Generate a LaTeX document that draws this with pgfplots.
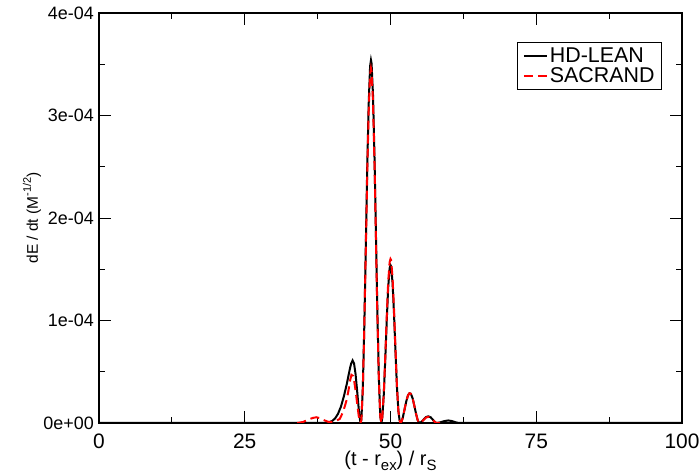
\documentclass[border=0pt]{standalone}
\usepackage{fontspec}
\setmainfont{Liberation Sans}
\usepackage{pgfplots}
\pgfplotsset{compat=1.18}

\begin{document}
\begin{tikzpicture}
\begin{axis}[
    at={(99bp,51bp)}, anchor=south west,
    scale only axis, width=583bp, height=410bp,
    xmin=0, xmax=100, ymin=0, ymax=4e-4,
    xtick={0,25,50,75,100},
    xticklabels={0,25,50,75,100},
    ytick={0,1e-4,2e-4,3e-4,4e-4},
    yticklabels={0e+00,1e-04,2e-04,3e-04,4e-04},
    scaled y ticks=false,
    minor x tick num=1, minor y tick num=1,
    tick align=inside,
    major tick length=12bp, minor tick length=6bp,
    every tick/.style={black, line width=0.9bp},
    axis line style={line width=1.5bp},
    /pgf/number format/assume math mode=true,
    xticklabel style={font=\fontsize{21}{21}\selectfont, inner sep=0pt, anchor=base, yshift=-25bp},
    yticklabel style={font=\fontsize{18}{18}\selectfont, inner sep=0pt, anchor=east, xshift=-5bp},
    xlabel={(t - r\raisebox{-0.3em}{\fontsize{15}{15}\selectfont ex}) / r\raisebox{-0.3em}{\fontsize{15}{15}\selectfont S}},
    xlabel style={font=\fontsize{20}{20}\selectfont, at={(axis description cs:0.5,0)}, anchor=base, yshift=-42bp, inner sep=0pt},
    ylabel={dE / dt (M\raisebox{0.45em}{\fontsize{11}{11}\selectfont -1/2})},
    ylabel style={font=\fontsize{15.5}{15.5}\selectfont, at={(axis description cs:-0.115,0.5)}, anchor=center, inner sep=0pt},
    legend style={at={(0.9657,0.929)}, anchor=north east, draw=black, line width=0.8bp,
        inner xsep=5bp, inner ysep=3bp, row sep=0bp,
        cells={anchor=west}},
    legend image code/.code={\draw[#1] (0bp,0bp) -- (23bp,0bp);},
]

\addplot[black, line width=2bp] coordinates {
  (0,0) (38.5,0) (39.0,0.003e-4) (39.5,0.008e-4) (40,0.02e-4) (40.5,0.045e-4)
  (41,0.09e-4) (41.5,0.16e-4) (42,0.26e-4) (42.5,0.38e-4) (43,0.52e-4)
  (43.25,0.58e-4) (43.5,0.61e-4) (43.75,0.58e-4) (44,0.48e-4) (44.25,0.33e-4)
  (44.5,0.17e-4) (44.65,0.08e-4) (44.85,0)
  (45.0,0.03e-4) (45.25,0.34e-4) (45.5,0.93e-4) (45.75,1.69e-4) (46.0,2.47e-4)
  (46.25,3.10e-4) (46.5,3.48e-4) (46.65,3.54e-4) (46.75,3.51e-4) (47.0,3.20e-4)
  (47.25,2.61e-4) (47.5,1.85e-4) (47.75,1.08e-4) (48.0,0.44e-4) (48.25,0.06e-4)
  (48.45,0)
  (48.6,0.06e-4) (48.85,0.28e-4) (49.1,0.62e-4) (49.35,0.99e-4) (49.6,1.32e-4)
  (49.85,1.51e-4) (50.0,1.54e-4) (50.1,1.53e-4) (50.35,1.37e-4) (50.6,1.07e-4)
  (50.85,0.70e-4) (51.1,0.36e-4) (51.35,0.12e-4) (51.55,0.03e-4) (51.7,0)
  (51.9,0.015e-4) (52.1,0.05e-4) (52.4,0.13e-4) (52.7,0.21e-4) (53.0,0.27e-4)
  (53.25,0.29e-4) (53.5,0.285e-4) (53.8,0.24e-4) (54.1,0.165e-4) (54.4,0.085e-4)
  (54.65,0.03e-4) (54.9,0)
  (55.3,0.01e-4) (55.7,0.035e-4) (56.1,0.058e-4) (56.5,0.065e-4) (56.9,0.055e-4)
  (57.3,0.03e-4) (57.6,0.01e-4) (57.9,0)
  (58.5,0.006e-4) (59.2,0.018e-4) (59.9,0.025e-4) (60.6,0.018e-4) (61.2,0.006e-4)
  (61.8,0) (100,0)
};
\addlegendentry{\fontsize{21.5}{21.5}\selectfont HD-LEAN\hspace{8bp}}

\addplot[red, line width=2bp, dash pattern=on 9bp off 5bp] coordinates {
  (34.0,0) (35,0.01e-4) (36,0.035e-4) (36.7,0.05e-4) (37.3,0.056e-4) (38,0.045e-4)
  (38.7,0.025e-4) (39.3,0.012e-4) (39.8,0.01e-4) (40.3,0.015e-4) (40.8,0.025e-4)
  (41.3,0.04e-4) (41.8,0.1e-4) (42.2,0.17e-4) (42.5,0.23e-4) (42.8,0.32e-4)
  (43.05,0.41e-4) (43.3,0.47e-4) (43.55,0.46e-4) (43.8,0.40e-4) (44.05,0.30e-4)
  (44.3,0.18e-4) (44.55,0.07e-4) (44.85,0)
  (45.0,0.03e-4) (45.25,0.33e-4) (45.5,0.91e-4) (45.75,1.65e-4) (46.0,2.41e-4)
  (46.25,3.03e-4) (46.5,3.40e-4) (46.65,3.46e-4) (46.75,3.43e-4) (47.0,3.13e-4)
  (47.25,2.55e-4) (47.5,1.81e-4) (47.75,1.05e-4) (48.0,0.43e-4) (48.25,0.06e-4)
  (48.45,0)
  (48.6,0.06e-4) (48.85,0.29e-4) (49.1,0.64e-4) (49.35,1.03e-4) (49.6,1.37e-4)
  (49.85,1.57e-4) (50.0,1.60e-4) (50.1,1.59e-4) (50.35,1.42e-4) (50.6,1.11e-4)
  (50.85,0.73e-4) (51.1,0.36e-4) (51.35,0.12e-4) (51.55,0.03e-4) (51.7,0)
  (51.9,0.015e-4) (52.1,0.05e-4) (52.4,0.13e-4) (52.7,0.21e-4) (53.0,0.27e-4)
  (53.25,0.29e-4) (53.5,0.285e-4) (53.8,0.24e-4) (54.1,0.165e-4) (54.4,0.085e-4)
  (54.65,0.03e-4) (54.9,0)
  (55.3,0.01e-4) (55.7,0.032e-4) (56.1,0.054e-4) (56.5,0.06e-4) (56.9,0.05e-4)
  (57.3,0.028e-4) (57.6,0.01e-4) (57.9,0) (58.5,0)
};
\addlegendentry{\fontsize{21.5}{21.5}\selectfont SACRAND\hspace{8bp}}

\end{axis}
\pgfresetboundingbox
\path[use as bounding box] (0,0) rectangle (700bp,474bp);
\end{tikzpicture}
\end{document}
